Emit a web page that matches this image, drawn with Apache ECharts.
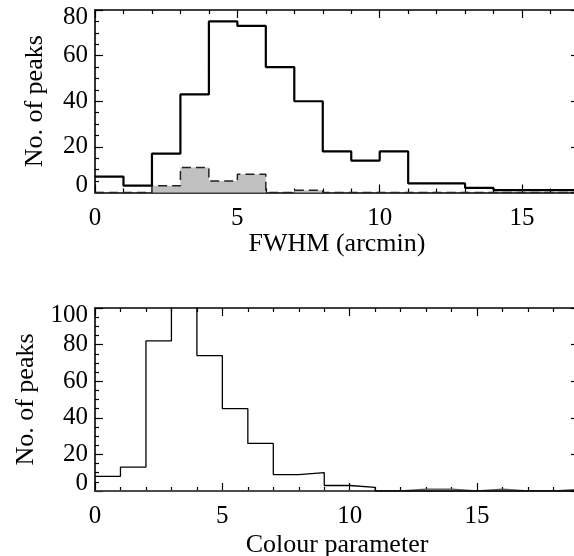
<!DOCTYPE html>
<html><head><meta charset="utf-8">
<script src="https://cdn.jsdelivr.net/npm/echarts@6/dist/echarts.min.js"></script>
<style>html,body{margin:0;padding:0;background:#fff}#c{width:574px;height:556px}</style>
</head><body><div id="c"></div>
<script>
// Top panel: FWHM histogram (bins of width 1 starting at 0)
const fwhmAll = [7, 3, 17, 43, 75, 73, 55, 40, 18, 14, 18, 4, 4, 2, 1, 1, 1];
const fwhmSub = [0, 0, 3, 11, 5, 8, 0, 1, 0, 0, 0, 0, 0, 0, 0, 0, 0];
// Bottom panel: Colour parameter histogram
const colourAll = [8, 13, 82, 125, 74, 45, 26, 9, 10, 3, 2, 0, 0, 0, 0, 0, 0, 0, 0];
const colourSub = [0, 0, 0, 0, 0, 0, 0, 0, 0, 0, 0, 0, 1, 1, 0, 1, 0, 0, 1];
const topXTicks = [0, 5, 10, 15];
const botXTicks = [0, 5, 10, 15];
const topYTicks = [0, 20, 40, 60, 80];
const botYTicks = [0, 20, 40, 60, 80, 100];
const topXTitle = 'FWHM (arcmin)';
const botXTitle = 'Colour parameter';
const yTitle = 'No. of peaks';

function steps(vals) {
  const pts = vals.map((v, i) => [i, v]);
  pts.push([vals.length, vals[vals.length - 1]]);
  return pts;
}
const FONT = '"Liberation Serif", "DejaVu Serif", serif';
const FS = 25;
const NFS = 26;
function yLabel(min, max) {
  return {
    show: true, color: '#000', fontFamily: FONT, fontSize: FS, margin: 7,
    formatter: v => v === min ? '{lo|' + v + '}' : (v === max ? '{hi|' + v + '}' : String(v)),
    rich: {
      lo: {fontFamily: FONT, fontSize: FS, color: '#000', padding: [0, 0, 15, 0]},
      hi: {fontFamily: FONT, fontSize: FS, color: '#000', padding: [15, 0, 0, 0]}
    }
  };
}
function xAxisMain(grid, max, title, gap) {
  return {
    type: 'value', gridIndex: grid, min: 0, max: max, interval: 5, position: 'bottom',
    name: title, nameLocation: 'middle', nameGap: gap,
    nameTextStyle: {fontFamily: FONT, fontSize: NFS, color: '#000'},
    axisLine: {show: true, onZero: false, lineStyle: {color: '#000', width: 1.6}},
    axisTick: {show: true, inside: true, length: 8, lineStyle: {color: '#000', width: 1.2}},
    minorTick: {show: true, splitNumber: 5, length: 4, lineStyle: {color: '#000', width: 1.2}},
    axisLabel: {show: true, color: '#000', fontFamily: FONT, fontSize: FS, margin: 13, showMaxLabel: false},
    splitLine: {show: false}
  };
}
function xAxisMirror(grid, max) {
  return {
    type: 'value', gridIndex: grid, min: 0, max: max, interval: 5, position: 'top',
    axisLine: {show: true, onZero: false, lineStyle: {color: '#000', width: 1.6}},
    axisTick: {show: true, inside: true, length: 8, lineStyle: {color: '#000', width: 1.2}},
    minorTick: {show: true, splitNumber: 5, length: 4, lineStyle: {color: '#000', width: 1.2}},
    axisLabel: {show: false}, splitLine: {show: false}
  };
}
function yAxisMain(grid, max) {
  return {
    type: 'value', gridIndex: grid, min: 0, max: max, interval: 20, position: 'left',
    name: yTitle, nameLocation: 'middle', nameGap: 47, nameRotate: 90,
    nameTextStyle: {fontFamily: FONT, fontSize: NFS, color: '#000'},
    axisLine: {show: true, onZero: false, lineStyle: {color: '#000', width: 1.6}},
    axisTick: {show: true, inside: true, length: 8, lineStyle: {color: '#000', width: 1.2}},
    minorTick: {show: true, splitNumber: 4, length: 4, lineStyle: {color: '#000', width: 1.2}},
    axisLabel: yLabel(0, max), splitLine: {show: false}
  };
}
function yAxisMirror(grid, max) {
  return {
    type: 'value', gridIndex: grid, min: 0, max: max, interval: 20, position: 'right',
    axisLine: {show: true, onZero: false, lineStyle: {color: '#000', width: 1.6}},
    axisTick: {show: true, inside: true, length: 8, lineStyle: {color: '#000', width: 1.2}},
    minorTick: {show: true, splitNumber: 4, length: 4, lineStyle: {color: '#000', width: 1.2}},
    axisLabel: {show: false}, splitLine: {show: false}
  };
}
const chart = echarts.init(document.getElementById('c'), null, {renderer: 'canvas'});
chart.setOption({
  animation: false,
  backgroundColor: '#fff',
  textStyle: {fontFamily: FONT},
  grid: [
    {left: 95, top: 10, width: 484, height: 182.5, outerBoundsMode: 'none', containLabel: false},
    {left: 95, top: 308, width: 484, height: 183, outerBoundsMode: 'none', containLabel: false}
  ],
  xAxis: [xAxisMain(0, fwhmAll.length, topXTitle, 39), xAxisMirror(0, fwhmAll.length),
          xAxisMain(1, colourAll.length, botXTitle, 41), xAxisMirror(1, colourAll.length)],
  yAxis: [yAxisMain(0, 80), yAxisMirror(0, 80), yAxisMain(1, 100), yAxisMirror(1, 100)],
  series: [
    {type: 'line', xAxisIndex: 0, yAxisIndex: 0, step: 'end', data: steps(fwhmSub), symbol: 'none',
     lineStyle: {color: '#222', width: 1.5, type: [9, 5]}, areaStyle: {color: '#c0c0c0', opacity: 1}, z: 2},
    {type: 'line', xAxisIndex: 0, yAxisIndex: 0, step: 'end', data: steps(fwhmAll), symbol: 'none',
     lineStyle: {color: '#000', width: 2.2}, z: 3},
    {type: 'line', xAxisIndex: 2, yAxisIndex: 2, step: 'end', data: steps(colourSub), symbol: 'none',
     lineStyle: {color: '#555', width: 1.3}, areaStyle: {color: '#909090', opacity: 1}, z: 2},
    {type: 'line', xAxisIndex: 2, yAxisIndex: 2, step: 'end', data: steps(colourAll), symbol: 'none',
     lineStyle: {color: '#000', width: 1.3}, z: 3}
  ]
});
</script></body></html>
